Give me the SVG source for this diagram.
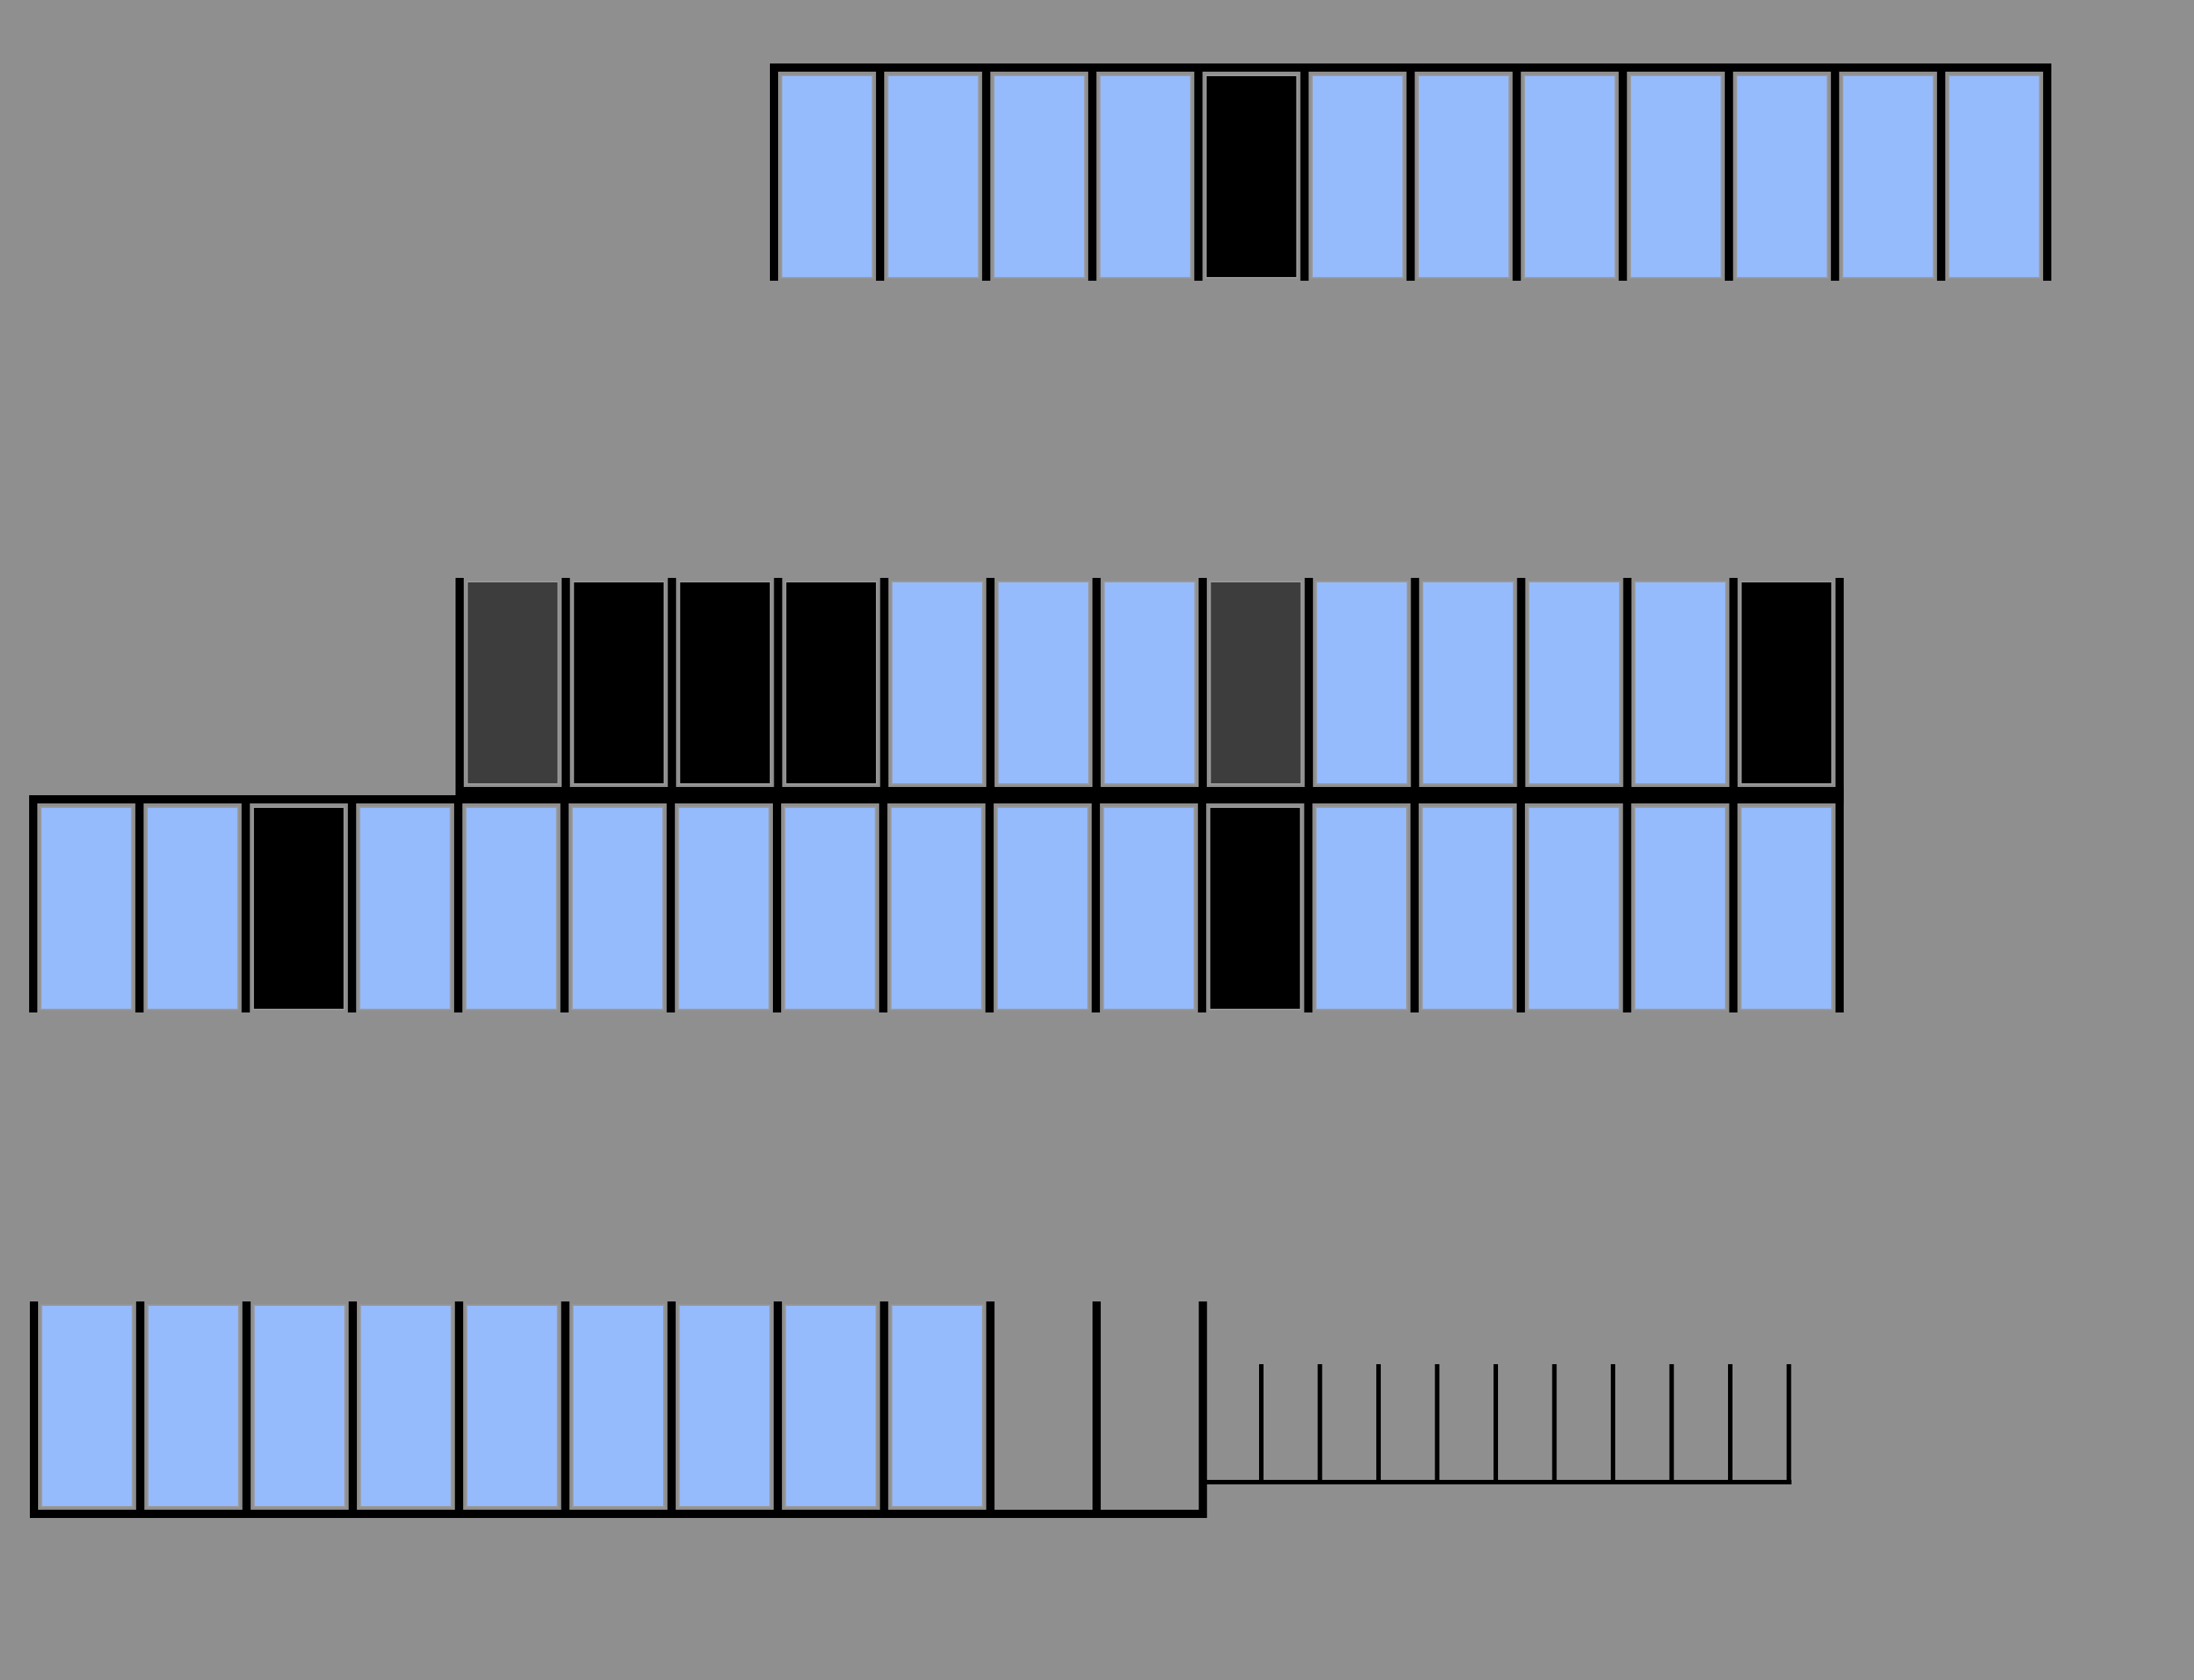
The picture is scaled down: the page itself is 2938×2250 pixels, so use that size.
<svg xmlns="http://www.w3.org/2000/svg" width="2938" height="2250" viewBox="0 0 2938 2250">
<style>
.bar{fill:#000}
.c{stroke:#999;stroke-width:2}
.b{fill:#96bbfc}
.k{fill:#000}
.d{fill:#3d3d3d}
.tick{stroke:#000;stroke-width:6;fill:none}
</style>
<rect x="0" y="0" width="2938" height="2250" fill="#8f8f8f"/>

<g id="row-top">
<rect class="bar" x="1031" y="85" width="1716" height="11"/>
<rect class="bar" x="1031" y="85" width="11" height="291"/>
<rect class="bar" x="1173.08" y="85" width="11" height="291"/>
<rect class="bar" x="1315.16" y="85" width="11" height="291"/>
<rect class="bar" x="1457.24" y="85" width="11" height="291"/>
<rect class="bar" x="1599.32" y="85" width="11" height="291"/>
<rect class="bar" x="1741.4" y="85" width="11" height="291"/>
<rect class="bar" x="1883.48" y="85" width="11" height="291"/>
<rect class="bar" x="2025.56" y="85" width="11" height="291"/>
<rect class="bar" x="2167.64" y="85" width="11" height="291"/>
<rect class="bar" x="2309.72" y="85" width="11" height="291"/>
<rect class="bar" x="2451.8" y="85" width="11" height="291"/>
<rect class="bar" x="2593.88" y="85" width="11" height="291"/>
<rect class="bar" x="2735.96" y="85" width="11" height="291"/>
<rect id="t0" class="c b" x="1046.5" y="101" width="122" height="271"/>
<rect id="t1" class="c b" x="1188.6" y="101" width="122" height="271"/>
<rect id="t2" class="c b" x="1330.7" y="101" width="122" height="271"/>
<rect id="t3" class="c b" x="1472.7" y="101" width="122" height="271"/>
<rect id="t4" class="c k" x="1614.8" y="101" width="122" height="271"/>
<rect id="t5" class="c b" x="1756.9" y="101" width="122" height="271"/>
<rect id="t6" class="c b" x="1899" y="101" width="122" height="271"/>
<rect id="t7" class="c b" x="2041.1" y="101" width="122" height="271"/>
<rect id="t8" class="c b" x="2183.1" y="101" width="122" height="271"/>
<rect id="t9" class="c b" x="2325.2" y="101" width="122" height="271"/>
<rect id="t10" class="c b" x="2467.3" y="101" width="122" height="271"/>
<rect id="t11" class="c b" x="2609.4" y="101" width="122" height="271"/>
</g>

<g id="row-a">
<rect class="bar" x="610" y="1054" width="1859" height="11"/>
<rect class="bar" x="610" y="774" width="11" height="291"/>
<rect class="bar" x="752.15" y="774" width="11" height="291"/>
<rect class="bar" x="894.3" y="774" width="11" height="291"/>
<rect class="bar" x="1036.45" y="774" width="11" height="291"/>
<rect class="bar" x="1178.6" y="774" width="11" height="291"/>
<rect class="bar" x="1320.75" y="774" width="11" height="291"/>
<rect class="bar" x="1462.9" y="774" width="11" height="291"/>
<rect class="bar" x="1605.05" y="774" width="11" height="291"/>
<rect class="bar" x="1747.2" y="774" width="11" height="291"/>
<rect class="bar" x="1889.35" y="774" width="11" height="291"/>
<rect class="bar" x="2031.5" y="774" width="11" height="291"/>
<rect class="bar" x="2173.65" y="774" width="11" height="291"/>
<rect class="bar" x="2315.8" y="774" width="11" height="291"/>
<rect class="bar" x="2457.95" y="774" width="11" height="291"/>
<rect id="a0" class="c d" x="625.5" y="779" width="122" height="271"/>
<rect id="a1" class="c k" x="767.65" y="779" width="122" height="271"/>
<rect id="a2" class="c k" x="909.8" y="779" width="122" height="271"/>
<rect id="a3" class="c k" x="1051.95" y="779" width="122" height="271"/>
<rect id="a4" class="c b" x="1194.1" y="779" width="122" height="271"/>
<rect id="a5" class="c b" x="1336.25" y="779" width="122" height="271"/>
<rect id="a6" class="c b" x="1478.4" y="779" width="122" height="271"/>
<rect id="a7" class="c d" x="1620.55" y="779" width="122" height="271"/>
<rect id="a8" class="c b" x="1762.7" y="779" width="122" height="271"/>
<rect id="a9" class="c b" x="1904.85" y="779" width="122" height="271"/>
<rect id="a10" class="c b" x="2047" y="779" width="122" height="271"/>
<rect id="a11" class="c b" x="2189.15" y="779" width="122" height="271"/>
<rect id="a12" class="c k" x="2331.3" y="779" width="122" height="271"/>
</g>

<g id="row-b">
<rect class="bar" x="39" y="1065" width="2430" height="11"/>
<rect class="bar" x="39" y="1065" width="11" height="291"/>
<rect class="bar" x="181.29" y="1065" width="11" height="291"/>
<rect class="bar" x="323.58" y="1065" width="11" height="291"/>
<rect class="bar" x="465.87" y="1065" width="11" height="291"/>
<rect class="bar" x="608.16" y="1065" width="11" height="291"/>
<rect class="bar" x="750.45" y="1065" width="11" height="291"/>
<rect class="bar" x="892.74" y="1065" width="11" height="291"/>
<rect class="bar" x="1035.03" y="1065" width="11" height="291"/>
<rect class="bar" x="1177.32" y="1065" width="11" height="291"/>
<rect class="bar" x="1319.61" y="1065" width="11" height="291"/>
<rect class="bar" x="1461.9" y="1065" width="11" height="291"/>
<rect class="bar" x="1604.19" y="1065" width="11" height="291"/>
<rect class="bar" x="1746.48" y="1065" width="11" height="291"/>
<rect class="bar" x="1888.77" y="1065" width="11" height="291"/>
<rect class="bar" x="2031.06" y="1065" width="11" height="291"/>
<rect class="bar" x="2173.35" y="1065" width="11" height="291"/>
<rect class="bar" x="2315.64" y="1065" width="11" height="291"/>
<rect class="bar" x="2457.93" y="1065" width="11" height="291"/>
<rect id="b0" class="c b" x="54.5" y="1081" width="122" height="271"/>
<rect id="b1" class="c b" x="196.79" y="1081" width="122" height="271"/>
<rect id="b2" class="c k" x="339.08" y="1081" width="122" height="271"/>
<rect id="b3" class="c b" x="481.37" y="1081" width="122" height="271"/>
<rect id="b4" class="c b" x="623.66" y="1081" width="122" height="271"/>
<rect id="b5" class="c b" x="765.95" y="1081" width="122" height="271"/>
<rect id="b6" class="c b" x="908.24" y="1081" width="122" height="271"/>
<rect id="b7" class="c b" x="1050.53" y="1081" width="122" height="271"/>
<rect id="b8" class="c b" x="1192.82" y="1081" width="122" height="271"/>
<rect id="b9" class="c b" x="1335.11" y="1081" width="122" height="271"/>
<rect id="b10" class="c b" x="1477.4" y="1081" width="122" height="271"/>
<rect id="b11" class="c k" x="1619.69" y="1081" width="122" height="271"/>
<rect id="b12" class="c b" x="1761.98" y="1081" width="122" height="271"/>
<rect id="b13" class="c b" x="1904.27" y="1081" width="122" height="271"/>
<rect id="b14" class="c b" x="2046.56" y="1081" width="122" height="271"/>
<rect id="b15" class="c b" x="2188.85" y="1081" width="122" height="271"/>
<rect id="b16" class="c b" x="2331.14" y="1081" width="122" height="271"/>
</g>

<g id="row-bottom">
<rect class="bar" x="40" y="2022" width="1576" height="11"/>
<rect class="bar" x="40" y="1743" width="11" height="290"/>
<rect class="bar" x="182.3" y="1743" width="11" height="290"/>
<rect class="bar" x="324.6" y="1743" width="11" height="290"/>
<rect class="bar" x="466.9" y="1743" width="11" height="290"/>
<rect class="bar" x="609.2" y="1743" width="11" height="290"/>
<rect class="bar" x="751.5" y="1743" width="11" height="290"/>
<rect class="bar" x="893.8" y="1743" width="11" height="290"/>
<rect class="bar" x="1036.1" y="1743" width="11" height="290"/>
<rect class="bar" x="1178.4" y="1743" width="11" height="290"/>
<rect class="bar" x="1320.7" y="1743" width="11" height="290"/>
<rect class="bar" x="1463" y="1743" width="11" height="290"/>
<rect class="bar" x="1605.3" y="1743" width="11" height="290"/>
<rect id="c0" class="c b" x="55.5" y="1748" width="122" height="270"/>
<rect id="c1" class="c b" x="197.8" y="1748" width="122" height="270"/>
<rect id="c2" class="c b" x="340.1" y="1748" width="122" height="270"/>
<rect id="c3" class="c b" x="482.4" y="1748" width="122" height="270"/>
<rect id="c4" class="c b" x="624.7" y="1748" width="122" height="270"/>
<rect id="c5" class="c b" x="767" y="1748" width="122" height="270"/>
<rect id="c6" class="c b" x="909.3" y="1748" width="122" height="270"/>
<rect id="c7" class="c b" x="1051.6" y="1748" width="122" height="270"/>
<rect id="c8" class="c b" x="1193.9" y="1748" width="122" height="270"/>
</g>

<g id="comb">
<line class="tick" x1="1610" y1="1985" x2="2399" y2="1985"/>
<line class="tick" x1="1689" y1="1827" x2="1689" y2="1985"/>
<line class="tick" x1="1767.5" y1="1827" x2="1767.5" y2="1985"/>
<line class="tick" x1="1846" y1="1827" x2="1846" y2="1985"/>
<line class="tick" x1="1924.5" y1="1827" x2="1924.5" y2="1985"/>
<line class="tick" x1="2003" y1="1827" x2="2003" y2="1985"/>
<line class="tick" x1="2081.5" y1="1827" x2="2081.5" y2="1985"/>
<line class="tick" x1="2160" y1="1827" x2="2160" y2="1985"/>
<line class="tick" x1="2238.5" y1="1827" x2="2238.5" y2="1985"/>
<line class="tick" x1="2317" y1="1827" x2="2317" y2="1985"/>
<line class="tick" x1="2395.5" y1="1827" x2="2395.5" y2="1985"/>
</g>
</svg>
